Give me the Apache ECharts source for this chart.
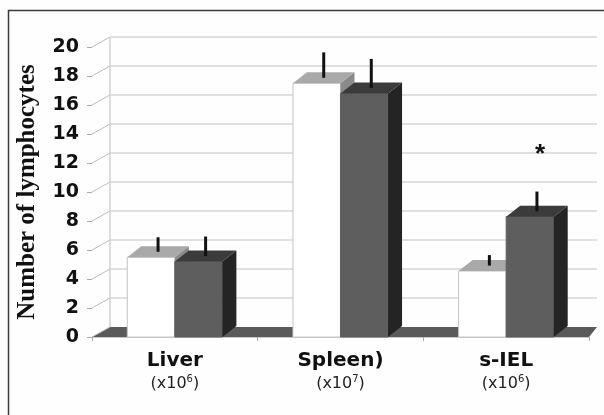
<!DOCTYPE html>
<html>
<head>
<meta charset="utf-8">
<script src="https://cdn.jsdelivr.net/npm/echarts@6/dist/echarts.min.js"></script>
<style>
html, body { margin: 0; padding: 0; background: #fefefe; }
#main { width: 604px; height: 415px; }
</style>
</head>
<body>
<div id="main"></div>
<script>
// data
var categories = ['Liver', 'Spleen)', 's-IEL'];
var powers = ['6', '7', '6'];
var yTicks = [0, 2, 4, 6, 8, 10, 12, 14, 16, 18, 20];
var whiteMean = [5.5, 17.5, 4.55];
var whiteErr = [1.0, 1.75, 0.72];
var grayMean = [5.2, 16.8, 8.3];
var grayErr = [1.35, 2.0, 1.35];
var grayMarks = ['', '', '*'];

// 3d look
var DX = 18, DY = -10;     // wall depth
var BDX = 14, BDY = -11;   // bar depth
var BAR = 0.287;           // bar width as part of a band

var myChart = echarts.init(document.getElementById('main'));

function wallItem(params, api) {
	var v = api.value(1);
	var cs = params.coordSys;
	var left = cs.x, right = cs.x + cs.width;
	var y = api.coord([0, v])[1];
	var kids = [];
	if (v == 0) {
		kids.push({
			type: 'polygon',
			shape: { points: [[left, y], [right, y], [right + 8, y + DY], [left + DX, y + DY]] },
			style: { fill: '#5a5a5a' }
		});
		var yTop = api.coord([0, yTicks[yTicks.length - 1]])[1];
		kids.push({
			type: 'line',
			shape: { x1: left + DX, y1: y + DY, x2: left + DX, y2: yTop + DY },
			style: { stroke: '#bdbdbd', lineWidth: 1 }
		});
	} else {
		kids.push({
			type: 'line',
			shape: { x1: left + DX, y1: y + DY, x2: right + 8, y2: y + DY },
			style: { stroke: '#d6d6d6', lineWidth: 1.5 }
		});
	}
	kids.push({
		type: 'line',
		shape: { x1: left, y1: y, x2: left + DX, y2: y + DY },
		style: { stroke: '#bdbdbd', lineWidth: 1 }
	});
	return { type: 'group', children: kids };
}

function barRenderer(side, colors, marks) {
	return function (params, api) {
		var i = api.value(0), v = api.value(1), e = api.value(2);
		var top = api.coord([i, v]);
		var base = api.coord([i, 0]);
		var errTop = api.coord([i, v + e]);
		var w = api.size([1, 0])[0] * BAR;
		var x0 = side < 0 ? top[0] - w : top[0];
		var x1 = x0 + w;
		var yt = top[1], yb = base[1];
		var mx = (x0 + x1) / 2 + BDX / 2;
		var kids = [
			{
				type: 'rect',
				shape: { x: x0, y: yt, width: w, height: yb - yt },
				style: { fill: colors[0], stroke: colors[3], lineWidth: 1 }
			},
			{
				type: 'polygon',
				shape: { points: [[x0, yt], [x1, yt], [x1 + BDX, yt + BDY], [x0 + BDX, yt + BDY]] },
				style: { fill: colors[1] }
			},
			{
				type: 'polygon',
				shape: { points: [[x1, yt], [x1 + BDX, yt + BDY], [x1 + BDX, yb + BDY], [x1, yb]] },
				style: { fill: colors[2] }
			},
			{
				type: 'line',
				shape: { x1: mx, y1: yt + BDY / 2, x2: mx, y2: errTop[1] + BDY / 2 },
				style: { stroke: '#111', lineWidth: 3 }
			}
		];
		if (marks && marks[i]) {
			kids.push({
				type: 'text',
				style: {
					text: marks[i], x: mx + 3, y: errTop[1] + BDY / 2 - 37,
					fill: '#111', font: 'bold 26px "Liberation Sans"',
					align: 'center', verticalAlign: 'middle'
				}
			});
		}
		return { type: 'group', children: kids };
	};
}

var option = {
	backgroundColor: '#fefefe',
	animation: false,
	graphic: [{
		type: 'rect',
		shape: { x: 8.5, y: 10.5, width: 640, height: 440 },
		style: { fill: 'none', stroke: '#3a3a3a', lineWidth: 1.5 },
		z: 10
	}],
	grid: { left: 92, right: 15, top: 47, bottom: 78 },
	xAxis: {
		type: 'category',
		data: categories,
		axisLine: { show: true, lineStyle: { color: '#c8c8c8' } },
		axisTick: { show: true, length: 4, lineStyle: { color: '#aaa' } },
		axisLabel: {
			margin: 11,
			formatter: function (val, idx) {
				return '{b|' + val + '}\n{n|(x10}{s|' + powers[idx] + '}{n|)}';
			},
			rich: {
				b: { fontFamily: 'DejaVu Sans', fontWeight: 'bold', fontSize: 20, color: '#111', lineHeight: 26 },
				n: { fontFamily: 'DejaVu Sans', fontSize: 16, color: '#222', lineHeight: 20 },
				s: { fontFamily: 'DejaVu Sans', fontSize: 10, color: '#222', verticalAlign: 'top' }
			}
		}
	},
	yAxis: {
		type: 'value',
		min: 0, max: 20, interval: 2,
		name: 'Number of lymphocytes',
		nameLocation: 'middle',
		nameGap: 52,
		nameTextStyle: { fontFamily: 'Liberation Serif', fontWeight: 'bold', fontSize: 25, color: '#111' },
		axisLine: { show: false },
		axisTick: { show: true, length: 5, lineStyle: { color: '#aaa' } },
		splitLine: { show: false },
		axisLabel: { margin: 13, fontFamily: 'DejaVu Sans', fontWeight: 'bold', fontSize: 19, color: '#111' }
	},
	series: [{
		type: 'custom',
		name: 'wall',
		z: 1,
		clip: false,
		silent: true,
		renderItem: wallItem,
		data: yTicks.map(function (v) { return [0, v]; })
	}, {
		type: 'custom',
		name: 'white',
		z: 2,
		clip: false,
		renderItem: barRenderer(-1, ['#ffffff', '#a9a9a9', '#8a8a8a', '#c4c4c4']),
		encode: { x: 0, y: 1 },
		data: categories.map(function (c, i) { return [i, whiteMean[i], whiteErr[i]]; })
	}, {
		type: 'custom',
		name: 'gray',
		z: 2,
		clip: false,
		renderItem: barRenderer(1, ['#5e5e5e', '#3b3b3b', '#242424', '#5e5e5e'], grayMarks),
		encode: { x: 0, y: 1 },
		data: categories.map(function (c, i) { return [i, grayMean[i], grayErr[i]]; })
	}]
};

myChart.setOption(option);
</script>
</body>
</html>
